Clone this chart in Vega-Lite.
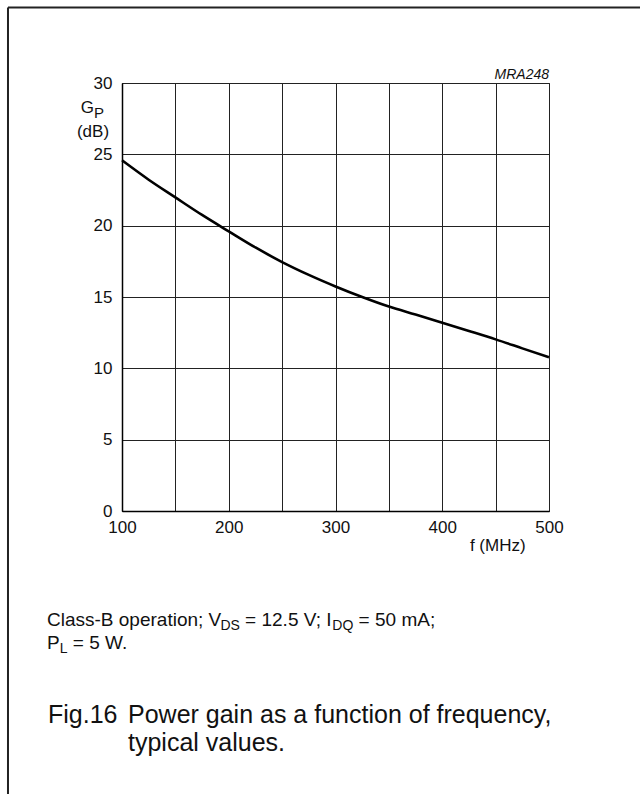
{
  "$schema": "https://vega.github.io/schema/vega-lite/v6.json",
  "width": 427,
  "height": 428,
  "autosize": {"type": "none"},
  "padding": {"left": 122, "top": 83, "right": 91, "bottom": 283},
  "background": "white",
  "config": {
    "font": "Liberation Sans",
    "view": {"stroke": "#222", "strokeWidth": 1},
    "text": {"font": "Liberation Sans", "color": "#111"}
  },
  "data": {
    "values": [
      {"f": 100, "gain": 24.58},
      {"f": 125, "gain": 23.22},
      {"f": 150, "gain": 21.98},
      {"f": 175, "gain": 20.75},
      {"f": 200, "gain": 19.6},
      {"f": 225, "gain": 18.47},
      {"f": 250, "gain": 17.45},
      {"f": 275, "gain": 16.55},
      {"f": 300, "gain": 15.74},
      {"f": 325, "gain": 15.0},
      {"f": 350, "gain": 14.33},
      {"f": 375, "gain": 13.77},
      {"f": 400, "gain": 13.2},
      {"f": 425, "gain": 12.62},
      {"f": 450, "gain": 12.03},
      {"f": 475, "gain": 11.4},
      {"f": 500, "gain": 10.77}
    ]
  },
  "layer": [
    {
      "mark": {"type": "line", "color": "#000", "strokeWidth": 2.6, "interpolate": "monotone"},
      "encoding": {
        "x": {
          "field": "f", "type": "quantitative",
          "scale": {"domain": [100, 500], "nice": false, "zero": false},
          "axis": {
            "values": [100, 150, 200, 250, 300, 350, 400, 450, 500],
            "labelExpr": "datum.value % 100 == 0 ? datum.label : ''",
            "title": null, "grid": true, "gridColor": "#222", "gridWidth": 1, "gridOpacity": 1,
            "ticks": false, "domain": true, "domainColor": "#000", "domainWidth": 1.5,
            "labelFont": "Liberation Sans", "labelFontSize": 17, "labelColor": "#111",
            "labelPadding": 8, "labelFlush": false, "labelOverlap": false
          }
        },
        "y": {
          "field": "gain", "type": "quantitative",
          "scale": {"domain": [0, 30], "nice": false, "zero": true},
          "axis": {
            "values": [0, 2.5, 5, 7.5, 10, 12.5, 15, 17.5, 20, 22.5, 25, 27.5, 30],
            "labelExpr": "datum.value % 5 == 0 ? datum.label : ''",
            "title": null, "grid": true, "gridColor": "#222", "gridWidth": 1, "gridOpacity": 1,
            "ticks": false, "domain": true, "domainColor": "#000", "domainWidth": 1.5,
            "labelFont": "Liberation Sans", "labelFontSize": 17, "labelColor": "#111",
            "labelPadding": 10, "labelOverlap": false
          }
        }
      }
    },
    {
      "data": {"values": [{}]},
      "mark": {"type": "rule", "color": "#222", "strokeWidth": 2},
      "encoding": {"x": {"datum": -6.8}, "y": {"datum": 35.3}, "y2": {"datum": -22}}
    },
    {
      "data": {"values": [{}]},
      "mark": {"type": "rule", "color": "#222", "strokeWidth": 2},
      "encoding": {"x": {"datum": -6.8}, "x2": {"datum": 600}, "y": {"datum": 35.3}}
    },
    {
      "data": {"values": [{}]},
      "mark": {"type": "text", "text": "MRA248", "fontStyle": "italic", "fontSize": 14, "align": "right", "baseline": "alphabetic", "dy": -4},
      "encoding": {"x": {"datum": 500}, "y": {"datum": 30}}
    },
    {
      "data": {"values": [{}]},
      "mark": {"type": "text", "text": "G", "fontSize": 17, "align": "right", "baseline": "alphabetic", "dx": -28, "dy": 30},
      "encoding": {"x": {"datum": 100}, "y": {"datum": 30}}
    },
    {
      "data": {"values": [{}]},
      "mark": {"type": "text", "text": "P", "fontSize": 15, "align": "left", "baseline": "alphabetic", "dx": -28, "dy": 35},
      "encoding": {"x": {"datum": 100}, "y": {"datum": 30}}
    },
    {
      "data": {"values": [{}]},
      "mark": {"type": "text", "text": "(dB)", "fontSize": 17, "align": "center", "baseline": "alphabetic", "dx": -29, "dy": 54},
      "encoding": {"x": {"datum": 100}, "y": {"datum": 30}}
    },
    {
      "data": {"values": [{}]},
      "mark": {"type": "text", "text": "f (MHz)", "fontSize": 17, "align": "center", "baseline": "middle", "dy": 35},
      "encoding": {"x": {"datum": 452}, "y": {"datum": 0}}
    },
    {
      "data": {"values": [{}]},
      "mark": {"type": "text", "text": "Class-B operation; V", "fontSize": 19, "align": "left", "baseline": "alphabetic", "dx": -75, "dy": 115},
      "encoding": {"x": {"datum": 100}, "y": {"datum": 0}}
    },
    {
      "data": {"values": [{}]},
      "mark": {"type": "text", "text": "DS", "fontSize": 14, "align": "left", "baseline": "alphabetic", "dx": 98.4, "dy": 119},
      "encoding": {"x": {"datum": 100}, "y": {"datum": 0}}
    },
    {
      "data": {"values": [{}]},
      "mark": {"type": "text", "text": "= 12.5 V; I", "fontSize": 19, "align": "left", "baseline": "alphabetic", "dx": 123.1, "dy": 115},
      "encoding": {"x": {"datum": 100}, "y": {"datum": 0}}
    },
    {
      "data": {"values": [{}]},
      "mark": {"type": "text", "text": "DQ", "fontSize": 14, "align": "left", "baseline": "alphabetic", "dx": 210.3, "dy": 119},
      "encoding": {"x": {"datum": 100}, "y": {"datum": 0}}
    },
    {
      "data": {"values": [{}]},
      "mark": {"type": "text", "text": "= 50 mA;", "fontSize": 19, "align": "left", "baseline": "alphabetic", "dx": 236.6, "dy": 115},
      "encoding": {"x": {"datum": 100}, "y": {"datum": 0}}
    },
    {
      "data": {"values": [{}]},
      "mark": {"type": "text", "text": "P", "fontSize": 19, "align": "left", "baseline": "alphabetic", "dx": -75, "dy": 138},
      "encoding": {"x": {"datum": 100}, "y": {"datum": 0}}
    },
    {
      "data": {"values": [{}]},
      "mark": {"type": "text", "text": "L", "fontSize": 14, "align": "left", "baseline": "alphabetic", "dx": -62.3, "dy": 142},
      "encoding": {"x": {"datum": 100}, "y": {"datum": 0}}
    },
    {
      "data": {"values": [{}]},
      "mark": {"type": "text", "text": "= 5 W.", "fontSize": 19, "align": "left", "baseline": "alphabetic", "dx": -49.2, "dy": 138},
      "encoding": {"x": {"datum": 100}, "y": {"datum": 0}}
    },
    {
      "data": {"values": [{}]},
      "mark": {"type": "text", "text": "Fig.16", "fontSize": 25, "align": "left", "baseline": "alphabetic", "dx": -74, "dy": 212},
      "encoding": {"x": {"datum": 100}, "y": {"datum": 0}}
    },
    {
      "data": {"values": [{}]},
      "mark": {"type": "text", "text": "Power gain as a function of frequency,", "fontSize": 25, "align": "left", "baseline": "alphabetic", "dx": 6, "dy": 212},
      "encoding": {"x": {"datum": 100}, "y": {"datum": 0}}
    },
    {
      "data": {"values": [{}]},
      "mark": {"type": "text", "text": "typical values.", "fontSize": 25, "align": "left", "baseline": "alphabetic", "dx": 6, "dy": 240},
      "encoding": {"x": {"datum": 100}, "y": {"datum": 0}}
    }
  ]
}
